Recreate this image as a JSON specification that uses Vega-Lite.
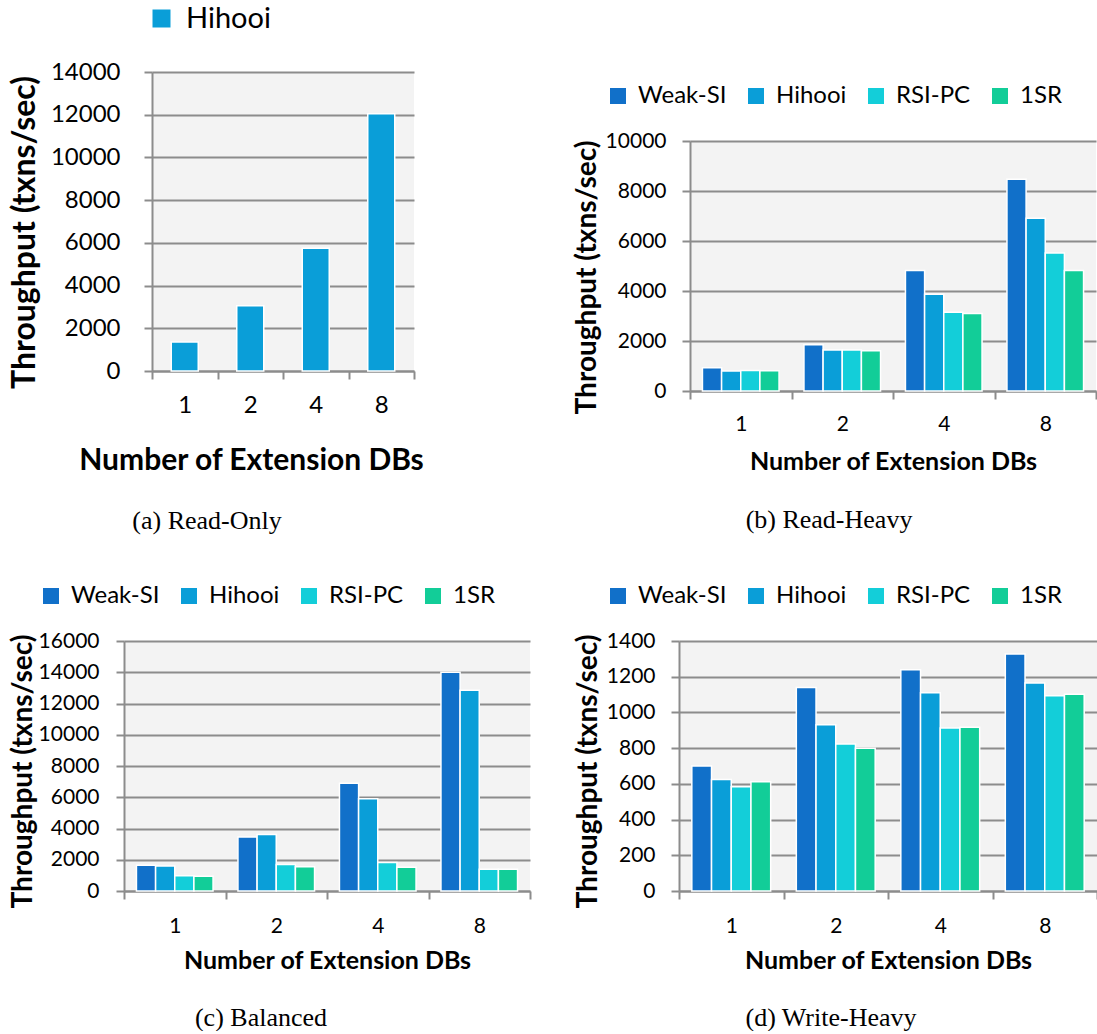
{
  "$schema": "https://vega.github.io/schema/vega-lite/v6.json",
  "background": "white",
  "padding": {"left": 7, "top": 4, "right": 0, "bottom": 0},
  "config": {
    "font": "Lato",
    "view": {"stroke": null, "fill": "#f3f3f3"},
    "axis": {
      "domainColor": "#8c8c8c", "domainWidth": 2,
      "tickColor": "#8c8c8c", "tickWidth": 2, "tickSize": 8,
      "gridColor": "#8c8c8c", "gridWidth": 2,
      "labelColor": "#000000", "titleColor": "#000000",
      "labelFont": "Lato", "titleFont": "Lato", "titleFontWeight": "bold"
    },
    "axisX": {"grid": false, "labelAngle": 0, "tickBand": "extent"},
    "legend": {"orient": "none", "direction": "horizontal", "symbolType": "square", "symbolStrokeWidth": 0, "labelFont": "Lato", "labelColor": "#000000", "padding": 0, "labelOffset": 8, "columnPadding": 17},
    "title": {"orient": "bottom", "font": "Liberation Serif", "fontSize": 26, "fontWeight": "normal", "color": "#000000", "anchor": "middle"}
  },
  "datasets": {
    "readOnly": [
      {"dbs": 1, "system": "Hihooi", "tps": 1360},
      {"dbs": 2, "system": "Hihooi", "tps": 3050},
      {"dbs": 4, "system": "Hihooi", "tps": 5750},
      {"dbs": 8, "system": "Hihooi", "tps": 12050}
    ],
    "readHeavy": [
      {"dbs": 1, "system": "Weak-SI", "tps": 930},
      {"dbs": 1, "system": "Hihooi", "tps": 800},
      {"dbs": 1, "system": "RSI-PC", "tps": 820},
      {"dbs": 1, "system": "1SR", "tps": 810},
      {"dbs": 2, "system": "Weak-SI", "tps": 1850},
      {"dbs": 2, "system": "Hihooi", "tps": 1640},
      {"dbs": 2, "system": "RSI-PC", "tps": 1640},
      {"dbs": 2, "system": "1SR", "tps": 1610},
      {"dbs": 4, "system": "Weak-SI", "tps": 4820},
      {"dbs": 4, "system": "Hihooi", "tps": 3870},
      {"dbs": 4, "system": "RSI-PC", "tps": 3150},
      {"dbs": 4, "system": "1SR", "tps": 3100},
      {"dbs": 8, "system": "Weak-SI", "tps": 8470},
      {"dbs": 8, "system": "Hihooi", "tps": 6910},
      {"dbs": 8, "system": "RSI-PC", "tps": 5520},
      {"dbs": 8, "system": "1SR", "tps": 4820}
    ],
    "balanced": [
      {"dbs": 1, "system": "Weak-SI", "tps": 1650},
      {"dbs": 1, "system": "Hihooi", "tps": 1600},
      {"dbs": 1, "system": "RSI-PC", "tps": 980},
      {"dbs": 1, "system": "1SR", "tps": 940},
      {"dbs": 2, "system": "Weak-SI", "tps": 3450},
      {"dbs": 2, "system": "Hihooi", "tps": 3620},
      {"dbs": 2, "system": "RSI-PC", "tps": 1700},
      {"dbs": 2, "system": "1SR", "tps": 1550},
      {"dbs": 4, "system": "Weak-SI", "tps": 6900},
      {"dbs": 4, "system": "Hihooi", "tps": 5900},
      {"dbs": 4, "system": "RSI-PC", "tps": 1830},
      {"dbs": 4, "system": "1SR", "tps": 1520},
      {"dbs": 8, "system": "Weak-SI", "tps": 14000},
      {"dbs": 8, "system": "Hihooi", "tps": 12850},
      {"dbs": 8, "system": "RSI-PC", "tps": 1400},
      {"dbs": 8, "system": "1SR", "tps": 1400}
    ],
    "writeHeavy": [
      {"dbs": 1, "system": "Weak-SI", "tps": 700},
      {"dbs": 1, "system": "Hihooi", "tps": 625},
      {"dbs": 1, "system": "RSI-PC", "tps": 584},
      {"dbs": 1, "system": "1SR", "tps": 612},
      {"dbs": 2, "system": "Weak-SI", "tps": 1139},
      {"dbs": 2, "system": "Hihooi", "tps": 931},
      {"dbs": 2, "system": "RSI-PC", "tps": 823},
      {"dbs": 2, "system": "1SR", "tps": 799},
      {"dbs": 4, "system": "Weak-SI", "tps": 1239},
      {"dbs": 4, "system": "Hihooi", "tps": 1110},
      {"dbs": 4, "system": "RSI-PC", "tps": 913},
      {"dbs": 4, "system": "1SR", "tps": 917},
      {"dbs": 8, "system": "Weak-SI", "tps": 1327},
      {"dbs": 8, "system": "Hihooi", "tps": 1165},
      {"dbs": 8, "system": "RSI-PC", "tps": 1094},
      {"dbs": 8, "system": "1SR", "tps": 1102}
    ]
  },
  "spacing": 50,
  "resolve": {"scale": {"x": "independent", "y": "independent", "color": "independent", "xOffset": "independent"}, "axis": {"x": "independent", "y": "independent"}, "legend": {"color": "independent"}},
  "vconcat": [
    {
      "spacing": 0,
      "resolve": {"scale": {"x": "independent", "y": "independent", "color": "independent", "xOffset": "independent"}, "axis": {"x": "independent", "y": "independent"}, "legend": {"color": "independent"}},
      "hconcat": [
        {"width": 1, "height": 1, "data": {"values": []}, "mark": {"type": "point"}, "view": {"fill": null, "stroke": null}},
        {
          "spacing": 148,
          "resolve": {"scale": {"x": "independent", "y": "independent", "color": "independent", "xOffset": "independent"}, "axis": {"x": "independent", "y": "independent"}, "legend": {"color": "independent"}},
          "hconcat": [
            {
              "width": 262, "height": 299,
              "title": {"text": "(a) Read-Only", "offset": 33, "dx": -76},
              "data": {"name": "readOnly"},
              "mark": {"type": "bar", "stroke": "white", "strokeWidth": 1.5},
              "encoding": {
                "x": {"field": "dbs", "type": "ordinal", "scale": {"paddingInner": 0, "paddingOuter": 0},
                      "axis": {"title": "Number of Extension DBs", "labelFontSize": 24, "labelPadding": 14, "titleFontSize": 30, "titlePadding": 28, "titleX": 99, "titleAlign": "center"}},
                "xOffset": {"field": "system", "type": "nominal", "scale": {"paddingInner": 0, "paddingOuter": 0.713}},
                "y": {"field": "tps", "type": "quantitative", "scale": {"domain": [0, 14000], "nice": false},
                      "axis": {"title": "Throughput (txns/sec)", "values": [0, 2000, 4000, 6000, 8000, 10000, 12000, 14000], "format": "d", "labelFontSize": 24, "labelPadding": 24, "minExtent": 102, "maxExtent": 102, "titleFontSize": 32, "titlePadding": 9, "titleY": 160}},
                "color": {"field": "system", "type": "nominal",
                          "scale": {"domain": ["Hihooi"], "range": ["#0A9ED8"]},
                          "legend": {"title": null, "legendX": -5, "legendY": -68, "symbolSize": 324, "labelFontSize": 29, "labelOffset": 10}}
              }
            },
            {
              "spacing": 0,
              "resolve": {"scale": {"x": "independent", "y": "independent", "color": "independent", "xOffset": "independent"}, "axis": {"x": "independent", "y": "independent"}, "legend": {"color": "independent"}},
              "vconcat": [
                {"width": 1, "height": 12, "data": {"values": []}, "mark": {"type": "point"}, "view": {"fill": null, "stroke": null}},
                {
                  "width": 406, "height": 250,
                  "title": {"text": "(b) Read-Heavy", "offset": 33, "dx": -64},
                  "data": {"name": "readHeavy"},
                  "mark": {"type": "bar", "stroke": "white", "strokeWidth": 1.5},
                  "encoding": {
                    "x": {"field": "dbs", "type": "ordinal", "scale": {"paddingInner": 0, "paddingOuter": 0},
                          "axis": {"title": "Number of Extension DBs", "labelFontSize": 21, "labelPadding": 14, "titleFontSize": 25, "titlePadding": 15}},
                    "xOffset": {"field": "system", "type": "nominal", "sort": ["Weak-SI", "Hihooi", "RSI-PC", "1SR"], "scale": {"paddingInner": 0, "paddingOuter": 0.65}},
                    "y": {"field": "tps", "type": "quantitative", "scale": {"domain": [0, 10000], "nice": false},
                          "axis": {"title": "Throughput (txns/sec)", "values": [0, 2000, 4000, 6000, 8000, 10000], "format": "d", "labelFontSize": 21, "labelPadding": 16, "minExtent": 85, "maxExtent": 85, "titleFontSize": 28, "titlePadding": 4, "titleY": 136}},
                    "color": {"field": "system", "type": "nominal",
                              "scale": {"domain": ["Weak-SI", "Hihooi", "RSI-PC", "1SR"], "range": ["#1170C9", "#0A9ED8", "#13CED9", "#12CD98"]},
                              "legend": {"title": null, "legendX": -84, "legendY": -57, "symbolSize": 256, "labelFontSize": 24}}
                  }
                }
              ]
            }
          ]
        }
      ]
    },
    {
      "spacing": 0,
      "resolve": {"scale": {"x": "independent", "y": "independent", "color": "independent", "xOffset": "independent"}, "axis": {"x": "independent", "y": "independent"}, "legend": {"color": "independent"}},
      "hconcat": [
        {"width": 1, "height": 1, "data": {"values": []}, "mark": {"type": "point"}, "view": {"fill": null, "stroke": null}},
        {
          "spacing": 42,
          "resolve": {"scale": {"x": "independent", "y": "independent", "color": "independent", "xOffset": "independent"}, "axis": {"x": "independent", "y": "independent"}, "legend": {"color": "independent"}},
          "hconcat": [
            {
              "width": 406, "height": 250,
              "title": {"text": "(c) Balanced", "offset": 32, "dx": -66},
              "data": {"name": "balanced"},
              "mark": {"type": "bar", "stroke": "white", "strokeWidth": 1.5},
              "encoding": {
                "x": {"field": "dbs", "type": "ordinal", "scale": {"paddingInner": 0, "paddingOuter": 0},
                      "axis": {"title": "Number of Extension DBs", "labelFontSize": 21, "labelPadding": 16, "titleFontSize": 25, "titlePadding": 12}},
                "xOffset": {"field": "system", "type": "nominal", "sort": ["Weak-SI", "Hihooi", "RSI-PC", "1SR"], "scale": {"paddingInner": 0, "paddingOuter": 0.65}},
                "y": {"field": "tps", "type": "quantitative", "scale": {"domain": [0, 16000], "nice": false},
                      "axis": {"title": "Throughput (txns/sec)", "values": [0, 2000, 4000, 6000, 8000, 10000, 12000, 14000, 16000], "format": "d", "labelFontSize": 21, "labelPadding": 17, "minExtent": 85, "maxExtent": 85, "titleFontSize": 28, "titlePadding": 2, "titleY": 130}},
                "color": {"field": "system", "type": "nominal",
                          "scale": {"domain": ["Weak-SI", "Hihooi", "RSI-PC", "1SR"], "range": ["#1170C9", "#0A9ED8", "#13CED9", "#12CD98"]},
                          "legend": {"title": null, "legendX": -85, "legendY": -57, "symbolSize": 256, "labelFontSize": 24}}
              }
            },
            {
              "width": 418, "height": 250,
              "title": {"text": "(d) Write-Heavy", "offset": 32, "dx": -57},
              "data": {"name": "writeHeavy"},
              "mark": {"type": "bar", "stroke": "white", "strokeWidth": 1.5},
              "encoding": {
                "x": {"field": "dbs", "type": "ordinal", "scale": {"paddingInner": 0, "paddingOuter": 0},
                      "axis": {"title": "Number of Extension DBs", "labelFontSize": 21, "labelPadding": 16, "titleFontSize": 25, "titlePadding": 12}},
                "xOffset": {"field": "system", "type": "nominal", "sort": ["Weak-SI", "Hihooi", "RSI-PC", "1SR"], "scale": {"paddingInner": 0, "paddingOuter": 0.65}},
                "y": {"field": "tps", "type": "quantitative", "scale": {"domain": [0, 1400], "nice": false},
                      "axis": {"title": "Throughput (txns/sec)", "values": [0, 200, 400, 600, 800, 1000, 1200, 1400], "format": "d", "labelFontSize": 21, "labelPadding": 16, "minExtent": 72, "maxExtent": 72, "titleFontSize": 28, "titlePadding": 5, "titleY": 130}},
                "color": {"field": "system", "type": "nominal",
                          "scale": {"domain": ["Weak-SI", "Hihooi", "RSI-PC", "1SR"], "range": ["#1170C9", "#0A9ED8", "#13CED9", "#12CD98"]},
                          "legend": {"title": null, "legendX": -73, "legendY": -57, "symbolSize": 256, "labelFontSize": 24}}
              }
            }
          ]
        }
      ]
    }
  ]
}
